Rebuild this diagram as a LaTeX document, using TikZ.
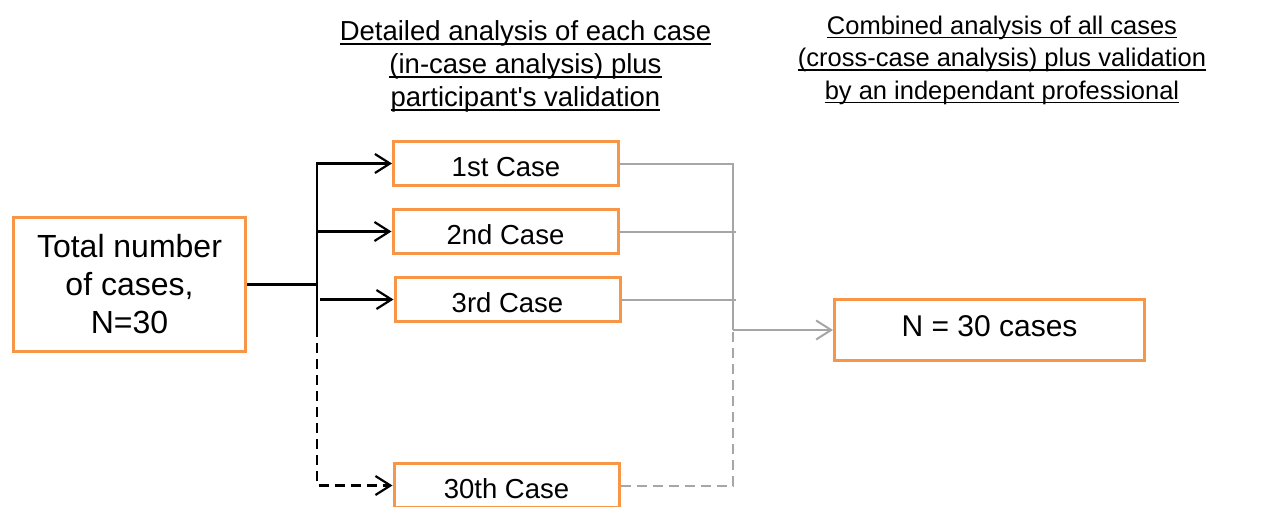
\documentclass[tikz,border=0pt]{standalone}
\usepackage{fontspec}
\setmainfont{Liberation Sans}
\newfontfamily\plainarial{Liberation Sans}
\usetikzlibrary{arrows.meta}
\definecolor{boxorange}{HTML}{F79646}
\definecolor{linegray}{HTML}{A6A6A6}
\newcommand{\myul}[1]{\leavevmode\setbox0=\hbox{#1}\rlap{\rule[-4pt]{\wd0}{1.7pt}}\box0}
\begin{document}
\begin{tikzpicture}[x=1pt,y=-1pt,
  box/.style={draw=boxorange, line width=3pt, inner sep=0pt, fill=white, text=black},
  casebox/.style={box, minimum width=225pt, minimum height=44pt,
    font=\fontsize{27.5}{32}\selectfont, text height=25.7pt, text depth=0pt},
  tip/.style={-{Straight Barb[length=15pt,width=19pt]}},
  blk/.style={line width=2.2pt, black},
  gry/.style={line width=2pt, linegray},
  dsh/.style={dash pattern=on 10pt off 6pt},
  title/.style={align=center, inner sep=0pt, anchor=north}
]
\useasboundingbox (0,0) rectangle (1277,506);

% titles
\node[title, font=\fontsize{27.5}{33}\selectfont] (t1) at (525.5,20.5)
  {\myul{Detailed analysis of each case}\\
   \myul{(in-case analysis) plus}\\
   \myul{participant{\plainarial'}s validation}};
\node[title, font=\fontsize{25.5}{32.5}\selectfont] (t2) at (1002,15.7)
  {\myul{Combined analysis of all cases}\\
   \myul{(cross-case analysis) plus validation}\\
   \myul{by an independant professional}};

% boxes
\node[box, minimum width=232pt, minimum height=134pt, align=center,
  font=\fontsize{32}{38}\selectfont] (total) at (129.5,284.5)
  {Total number\\of cases,\\N=30};
\node[casebox] (c1) at (506,163.5) {1st Case};
\node[casebox] (c2) at (505.5,231.5) {2nd Case};
\node[casebox] (c3) at (507.5,299.5) {3rd Case};
\node[casebox] (c30) at (506.5,485.5) {30th Case};
\node[box, minimum width=310pt, minimum height=61pt,
  font=\fontsize{30}{36}\selectfont, text depth=8pt] (n) at (989.5,330) {N = 30 cases};

% junction coordinates
\coordinate (bx) at (317,284);
\coordinate (bend) at (317,327);
\coordinate (b3) at (320,299.5);
\coordinate (gj) at (733,330);
\coordinate (gx) at (736,0);

% black connectors
\draw[blk] (total.east) -- (total.east -| bx);
\draw[blk, tip] (bend) -- (c1.west -| bx) -- (c1.west);
\draw[blk, tip] (c2.west -| bx) -- (c2.west);
\draw[blk, tip] (b3) -- (c3.west);
\draw[blk, dsh, tip] (bend) |- (c30.west);

% gray connectors
\draw[gry] (c1.east) -| (gj);
\draw[gry] (c2.east) -- (c2.east -| gx);
\draw[gry] (c3.east) -- (c3.east -| gx);
\draw[gry, tip] (gj) -- (n.west);
\draw[gry, dsh] (c30.east) -| (gj);
\end{tikzpicture}
\end{document}
